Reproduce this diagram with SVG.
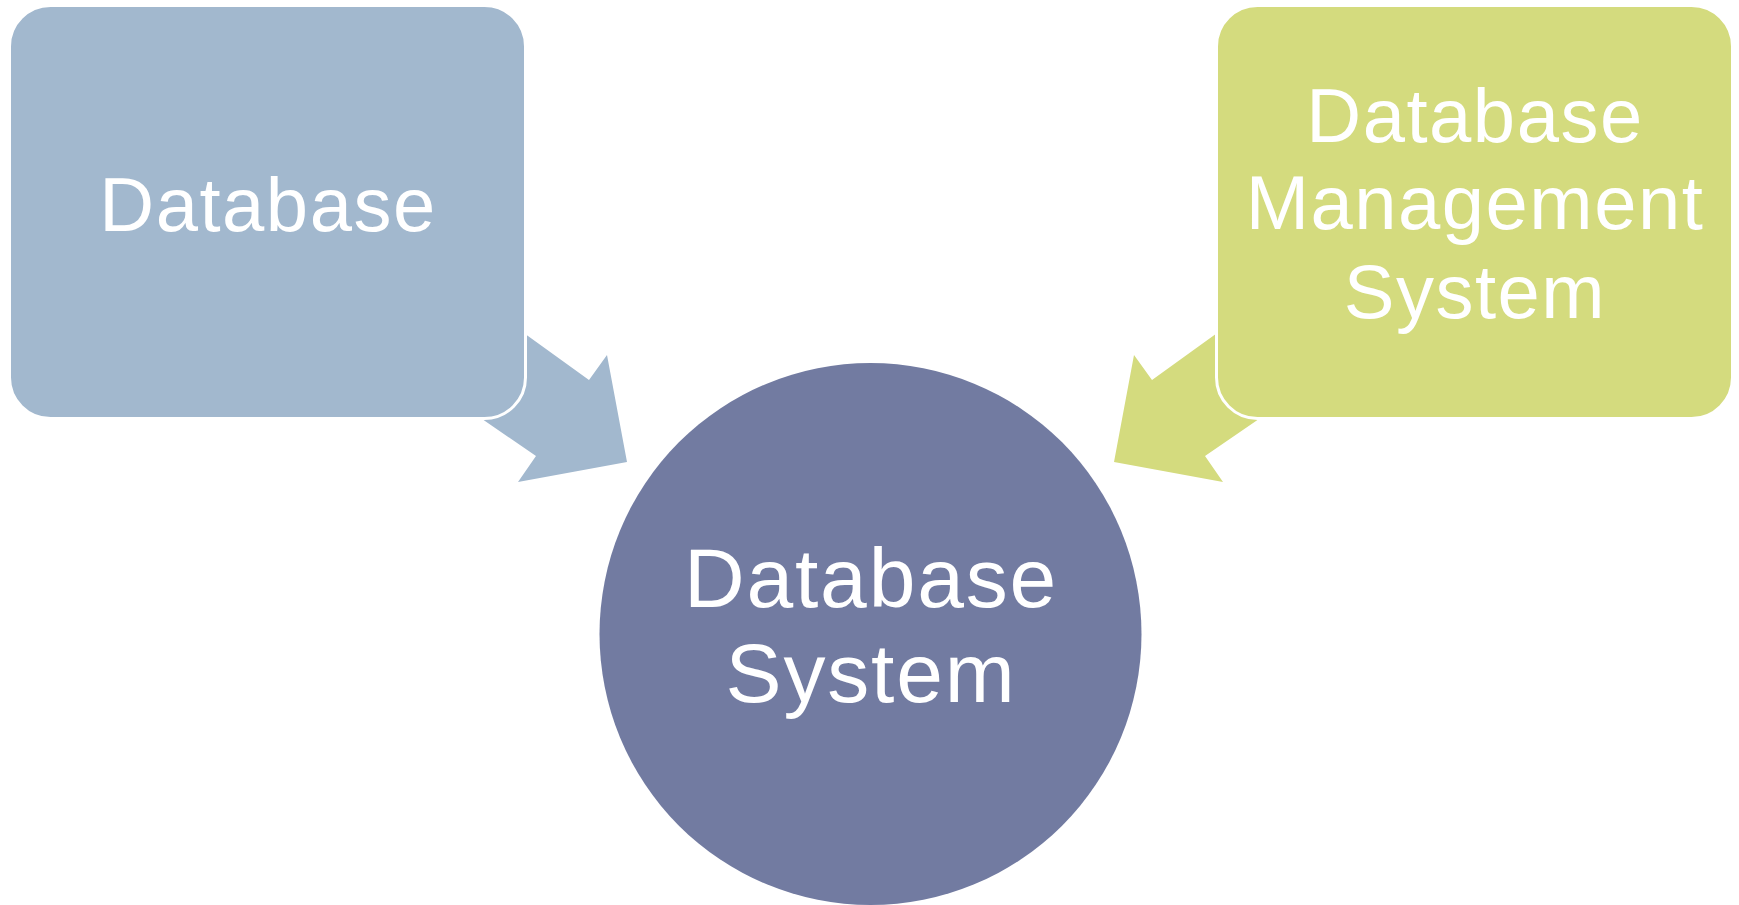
<svg xmlns="http://www.w3.org/2000/svg" width="1739" height="905" viewBox="0 0 1739 905">
  <style>
    .label { font-family: "Liberation Sans", Arial, sans-serif; fill: #ffffff; text-anchor: middle; letter-spacing: 1.5px; }
    .box { stroke: #ffffff; stroke-width: 3; }
    .blue { fill: #A2B8CE; }
    .green { fill: #D4DB7E; }
    .core { fill: #727BA1; }
  </style>
  <rect width="1739" height="905" fill="#ffffff"/>

  <!-- arrows pointing into the central circle; tails run under the boxes -->
  <g id="connectors">
    <polygon class="blue" points="420,258 528,336 589,380 607,355 627,462 518,482 536,456 485,421 377,343"/>
    <polygon class="green" points="1321,258 1213,336 1152,380 1134,355 1114,462 1223,482 1205,456 1256,421 1364,343"/>
  </g>

  <g id="node-database">
    <rect class="box blue" x="9.5" y="5.5" width="516" height="413" rx="41" ry="41"/>
    <text class="label" x="268" y="231" font-size="76">Database</text>
  </g>

  <g id="node-dbms">
    <rect class="box green" x="1216.5" y="5.5" width="516" height="413" rx="41" ry="41"/>
    <text class="label" x="1475" y="142" font-size="76">Database</text>
    <text class="label" x="1475" y="229" font-size="76">Management</text>
    <text class="label" x="1475" y="318" font-size="76">System</text>
  </g>

  <g id="node-database-system">
    <circle class="core" cx="870.5" cy="634" r="271"/>
    <text class="label" x="871" y="607" font-size="84" style="letter-spacing:1.8px">Database</text>
    <text class="label" x="871" y="702" font-size="84" style="letter-spacing:1.8px">System</text>
  </g>
</svg>
